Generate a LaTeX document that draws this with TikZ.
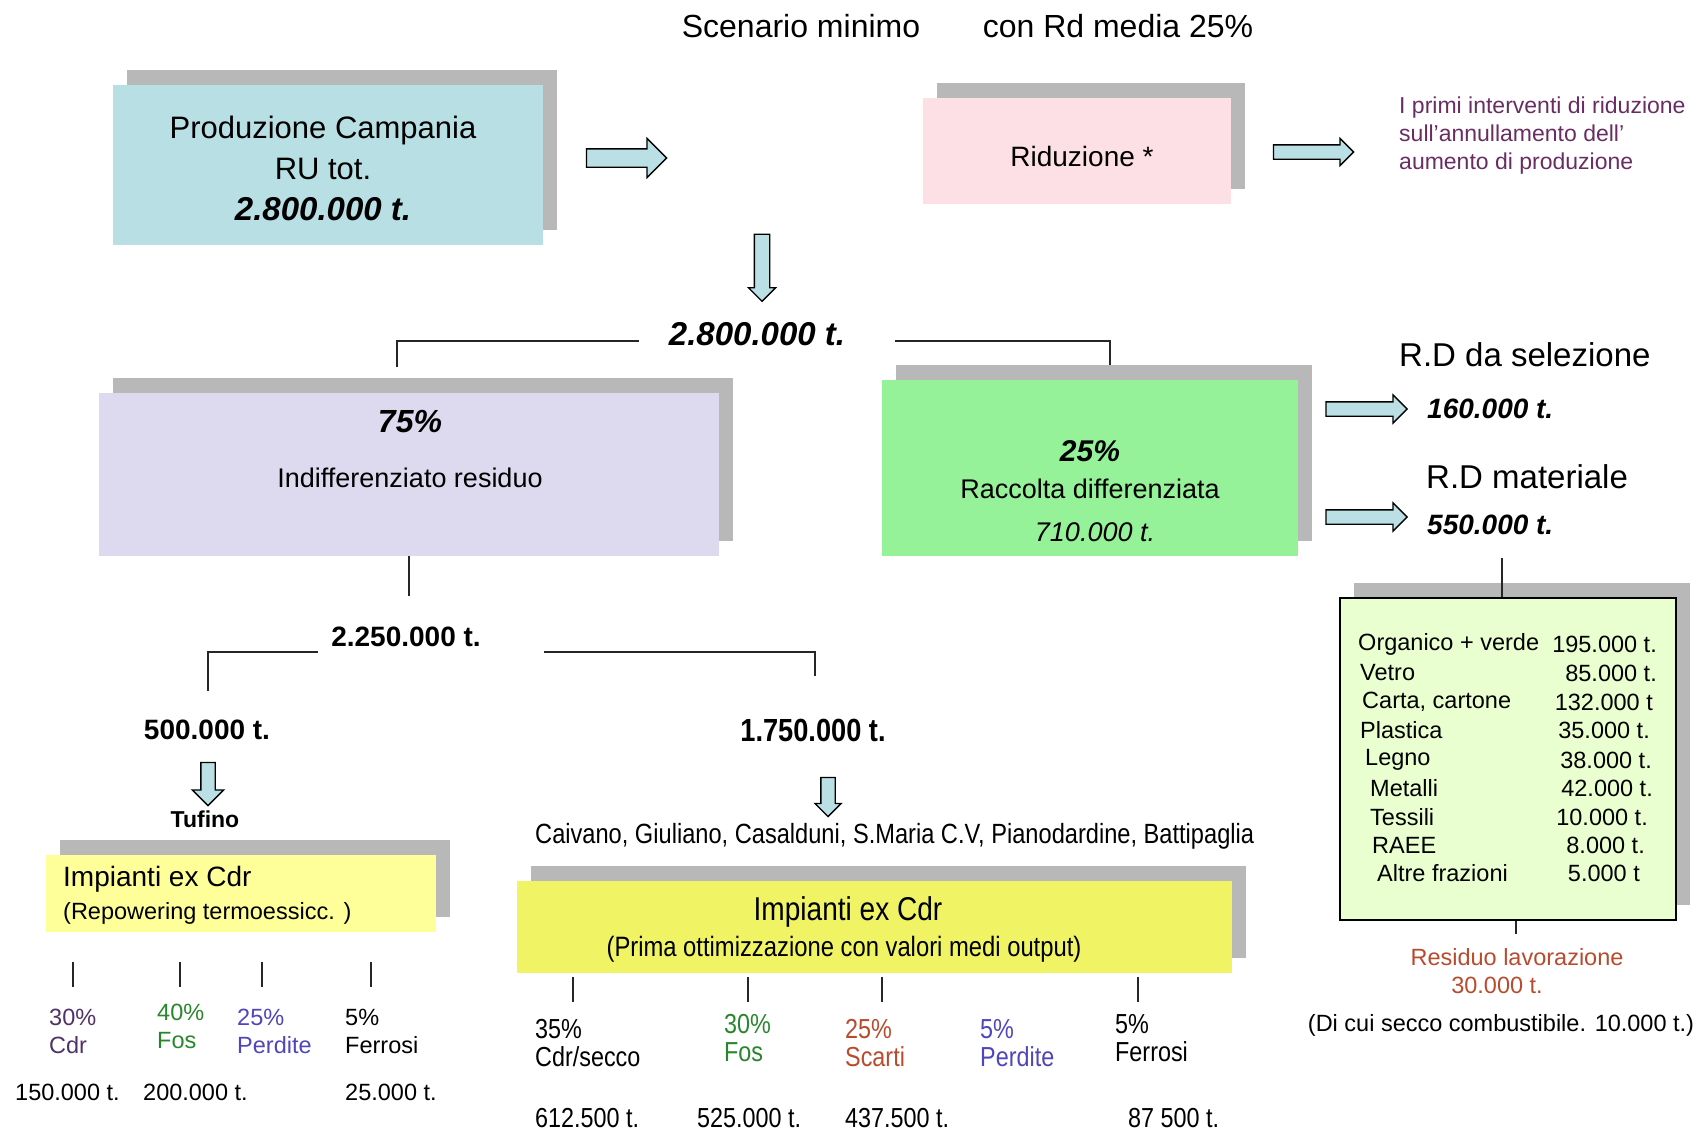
\documentclass[tikz,border=0pt]{standalone}
\usepackage{fontspec}
\setmainfont{Liberation Sans}
\newfontfamily\narrowfont[FakeStretch=0.85]{Liberation Sans}
\usetikzlibrary{shapes.arrows,shadows,positioning}

\definecolor{prodblue}{RGB}{183,223,228}
\definecolor{arrowblue}{RGB}{186,224,230}
\definecolor{ridpink}{RGB}{252,224,230}
\definecolor{indlav}{RGB}{221,217,238}
\definecolor{raccgreen}{RGB}{150,242,152}
\definecolor{listgreen}{RGB}{234,255,208}
\definecolor{impyellow}{RGB}{255,255,153}
\definecolor{impyellowb}{RGB}{240,244,100}
\definecolor{shadowgray}{RGB}{184,184,184}
\definecolor{notepurple}{RGB}{105,45,100}
\definecolor{cdrpurple}{RGB}{80,50,105}
\definecolor{fosgreen}{RGB}{40,135,45}
\definecolor{perdblue}{RGB}{80,70,185}
\definecolor{scartired}{RGB}{185,75,45}

\newcommand{\sz}[2]{\fontsize{#1}{#2}\selectfont}

\begin{document}
\begin{tikzpicture}[x=1pt, y=-1pt,
  box/.style={rectangle, inner sep=0pt, drop shadow={shadow xshift=14pt, shadow yshift=15pt, fill=shadowgray, opacity=1}},
  blockarrow/.style={single arrow, draw=black, fill=arrowblue, line width=1.3pt, inner xsep=0pt, single arrow head indent=0pt},
  conn/.style={draw=black!85, line width=1.4pt},
  txt/.style={inner sep=0pt},
  small/.style={txt, font=\sz{23.5}{28}},
  narrowlab/.style={txt, font=\narrowfont\sz{27.5}{28}, align=left, anchor=west}
]
\useasboundingbox (0,0) rectangle (1704,1132);

% Title
\node[txt, font=\sz{32}{38}] (title1) at (801,26) {Scenario minimo};
\node[txt, font=\sz{32}{38}] (title2) at (1118,26) {con Rd media 25\%};

% Production
\node[box, fill=prodblue, minimum width=430pt, minimum height=160pt] (prod) at (328,165) {};
\node[txt, align=center, font=\sz{31}{41}] (prodlab) at (323,168) {Produzione Campania\\RU tot.\\{\sz{33}{41}\bfseries\itshape 2.800.000 t.}};
\node[blockarrow, inner ysep=8.5pt, minimum height=80pt, minimum width=38pt, single arrow head extend=10.5pt] (arrProd) at (622,158) {};

% Reduction
\node[box, fill=ridpink, minimum width=308pt, minimum height=106pt] (rid) at (1077,151) {};
\node[txt, font=\sz{28}{34}] (ridlab) at (1082,156) {Riduzione *};
\node[blockarrow, inner ysep=6.5pt, minimum height=80pt, minimum width=26pt, single arrow head extend=6.5pt] (arrRid) at (1310,152) {};
\node[txt, anchor=west, align=left, text=notepurple, font=\sz{23}{28}] (note) at (1399,136) {I primi interventi di riduzione\\sull'annullamento dell'\\aumento di produzione};

% Total
\node[blockarrow, rotate=-90, inner ysep=7pt, minimum height=67pt, minimum width=26pt, single arrow head extend=6pt] (arrDown) at (762,264) {};
\node[txt, font=\sz{33}{40}\bfseries\itshape] (tot) at (757,334) {2.800.000 t.};
\coordinate (totL) at (639,341);
\coordinate (totR) at (895,341);
\coordinate (indiffTop) at (397,367);
\coordinate (raccTop) at (1110,366);
\draw[conn] (totL) -| (indiffTop);
\draw[conn] (totR) -| (raccTop);

% Residual waste
\node[box, fill=indlav, minimum width=620pt, minimum height=163pt] (indiff) at (409,474.5) {};
\node[txt, font=\sz{32}{38}\bfseries\itshape] (pct75) at (410,422) {75\%};
\node[txt, font=\sz{27}{32}] (indifflab) at (410,478) {Indifferenziato residuo};

% Separate collection
\node[box, fill=raccgreen, minimum width=416pt, minimum height=176pt] (racc) at (1090,468) {};
\node[txt, font=\sz{30}{36}\bfseries\itshape] (pct25) at (1090,451) {25\%};
\node[txt, font=\sz{27}{32}] (racclab) at (1090,489) {Raccolta differenziata};
\node[txt, font=\sz{27}{32}\itshape] (racct) at (1095,532) {710.000 t.};

% R.D outputs
\node[txt, anchor=west, font=\sz{33}{38}] (rdsel) at (1399,355) {R.D da selezione};
\node[blockarrow, inner ysep=6.5pt, minimum height=81pt, minimum width=27pt, single arrow head extend=7pt] (arrSel) at (1363,409) {};
\node[txt, anchor=west, font=\sz{28}{34}\bfseries\itshape] (sel) at (1427,409) {160.000 t.};
\node[txt, anchor=west, font=\sz{33}{38}] (rdmat) at (1426,477) {R.D materiale};
\node[blockarrow, inner ysep=6.5pt, minimum height=81pt, minimum width=27pt, single arrow head extend=7pt] (arrMat) at (1363,517) {};
\node[txt, anchor=west, font=\sz{28}{34}\bfseries\itshape] (mat) at (1427,525) {550.000 t.};

% Material list
\node[box, draw=black, line width=1.5pt, fill=listgreen, minimum width=336pt, minimum height=322pt] (lista) at (1508,759) {};
\draw[conn] ([xshift=-6pt]lista.north) -- ++(0,-39);
\node[small, anchor=west] (org) at (1358,644) {Organico + verde};
\node[small, anchor=east] (orgv) at (1657,644) {195.000 t.};
\node[small, anchor=west] (vet) at (1360,673) {Vetro};
\node[small, anchor=east] (vetv) at (1657,673) {85.000 t.};
\node[small, anchor=west] (car) at (1362,702) {Carta, cartone};
\node[small, anchor=east] (carv) at (1653,702) {132.000 t};
\node[small, anchor=west] (pla) at (1360,730) {Plastica};
\node[small, anchor=east] (plav) at (1650,730) {35.000 t.};
\node[small, anchor=west] (leg) at (1365,760) {Legno};
\node[small, anchor=east] (legv) at (1652,760) {38.000 t.};
\node[small, anchor=west] (met) at (1370,788) {Metalli};
\node[small, anchor=east] (metv) at (1653,788) {42.000 t.};
\node[small, anchor=west] (tes) at (1370,817) {Tessili};
\node[small, anchor=east] (tesv) at (1648,817) {10.000 t.};
\node[small, anchor=west] (rae) at (1372,845) {RAEE};
\node[small, anchor=east] (raev) at (1645,845) {8.000 t.};
\node[small, anchor=west] (alt) at (1377,873) {Altre frazioni};
\node[small, anchor=east] (altv) at (1640,873) {5.000 t};
\draw[conn] ([xshift=8pt]lista.south) -- ++(0,13);
\node[small, text=scartired] (residuo) at (1517,957) {Residuo lavorazione};
\node[small, text=scartired] (res30) at (1497,985) {30.000 t.};
\node[small] (secco) at (1501,1025) {(Di cui secco combustibile. 10.000 t.)};

% Split of residual waste
\draw[conn] (indiff.south) -- ++(0,40);
\node[txt, font=\sz{28}{34}\bfseries] (t2250) at (406,637) {2.250.000 t.};
\coordinate (splitL) at (318,652);
\coordinate (splitR) at (544,652);
\coordinate (t500Top) at (208,691);
\coordinate (t1750Top) at (815,676);
\draw[conn] (splitL) -| (t500Top);
\draw[conn] (splitR) -| (t1750Top);

% Tufino
\node[txt, font=\sz{28}{34}\bfseries] (t500) at (207,730) {500.000 t.};
\node[blockarrow, rotate=-90, inner ysep=6.5pt, minimum height=43pt, minimum width=30pt, single arrow head extend=8.5pt] (arrTuf) at (208,780.5) {};
\node[txt, font=\sz{23}{28}\bfseries] (tufino) at (205,819) {Tufino};
\node[box, fill=impyellow, minimum width=390pt, minimum height=77pt] (imp1) at (241,893.5) {};
\node[txt, anchor=west, font=\sz{28}{34}] (imp1a) at (63,879) {Impianti ex Cdr};
\node[small, anchor=west] (imp1b) at (63,913) {(Repowering termoessicc. )};
\coordinate (k1) at (73,962);
\coordinate (k2) at (180,962);
\coordinate (k3) at (262,962);
\coordinate (k4) at (371,962);
\draw[conn] (k1) -- ++(0,25);
\draw[conn] (k2) -- ++(0,25);
\draw[conn] (k3) -- ++(0,25);
\draw[conn] (k4) -- ++(0,25);
\node[small, anchor=west, align=left, text=cdrpurple] (l30) at (49,1031) {30\%\\Cdr};
\node[small, anchor=west, align=left, text=fosgreen] (l40) at (157,1026) {40\%\\Fos};
\node[small, anchor=west, align=left, text=perdblue] (l25) at (237,1031) {25\%\\Perdite};
\node[small, anchor=west, align=left] (l5) at (345,1031) {5\%\\Ferrosi};
\node[small, anchor=west] (v150) at (15,1092) {150.000 t.};
\node[small, anchor=west] (v200) at (143,1092) {200.000 t.};
\node[small, anchor=west] (v25) at (345,1092) {25.000 t.};

% Other plants
\node[txt, font=\narrowfont\sz{32}{38}\bfseries] (t1750) at (813,730) {1.750.000 t.};
\node[blockarrow, rotate=-90, inner ysep=6.5pt, minimum height=39pt, minimum width=25pt, single arrow head extend=6pt] (arrCdr) at (828,793.5) {};
\node[txt, anchor=west, font=\narrowfont\sz{27.8}{32}] (sites) at (535,836) {Caivano, Giuliano, Casalduni, S.Maria C.V, Pianodardine, Battipaglia};
\node[box, fill=impyellowb, minimum width=715pt, minimum height=92pt] (imp2) at (874.5,927) {};
\node[txt, font=\narrowfont\sz{33}{38}] (imp2a) at (848,912) {Impianti ex Cdr};
\node[txt, font=\narrowfont\sz{28}{32}] (imp2b) at (844,949) {(Prima ottimizzazione con valori medi output)};
\coordinate (m1) at (573,977);
\coordinate (m2) at (748,977);
\coordinate (m3) at (882,977);
\coordinate (m4) at (1138,977);
\draw[conn] (m1) -- ++(0,25);
\draw[conn] (m2) -- ++(0,25);
\draw[conn] (m3) -- ++(0,25);
\draw[conn] (m4) -- ++(0,25);
\node[narrowlab] (r35) at (535,1043) {35\%\\Cdr/secco};
\node[narrowlab, text=fosgreen] (r30) at (724,1038) {30\%\\Fos};
\node[narrowlab, text=scartired] (r25) at (845,1043) {25\%\\Scarti};
\node[narrowlab, text=perdblue] (r5a) at (980,1043) {5\%\\Perdite};
\node[narrowlab] (r5b) at (1115,1038) {5\%\\Ferrosi};
\node[narrowlab] (w612) at (535,1118) {612.500 t.};
\node[narrowlab] (w525) at (697,1118) {525.000 t.};
\node[narrowlab] (w437) at (845,1118) {437.500 t.};
\node[narrowlab] (w87) at (1128,1118) {87 500 t.};
\end{tikzpicture}
\end{document}
